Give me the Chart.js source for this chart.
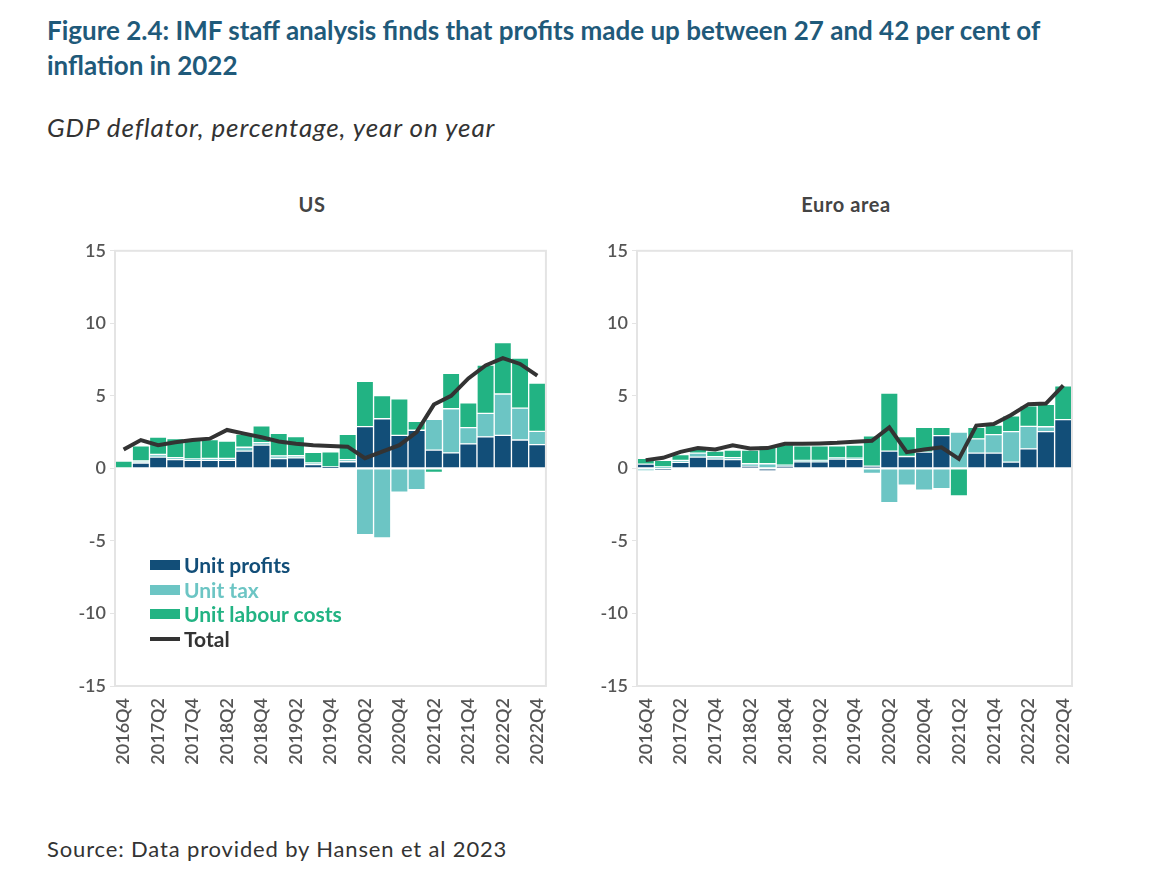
<!DOCTYPE html>
<html>
<head>
<meta charset="utf-8">
<script src="https://cdn.jsdelivr.net/npm/chart.js@4.4.1/dist/chart.umd.min.js"></script>
<style>
  html, body { margin:0; padding:0; background:#fff; }
  body { width:1170px; height:871px; position:relative; overflow:hidden; font-family: Lato, "Noto Sans", sans-serif; }
  .abs { position:absolute; }
  #title { left:47px; top:13px; font-size:26px; font-weight:700; color:#1f5a7a; line-height:35px; white-space:nowrap; }
  #subtitle { left:47px; top:111px; font-size:26px; font-style:italic; color:#333; white-space:nowrap; letter-spacing:0.9px; }
  .panel { font-size:20px; font-weight:700; color:#444; transform:translateX(-50%); top:192px; white-space:nowrap; letter-spacing:0.6px; }
  #source { left:47px; top:835px; font-size:22px; color:#333; white-space:nowrap; letter-spacing:0.85px; }
  .chartbox { position:absolute; top:236px; height:540px; }
  #legend { left:150px; top:553px; font-size:21px; font-weight:700; line-height:24.6px; }
  #legend div { display:flex; align-items:center; }
  #legend .sw { width:30px; height:10px; margin-right:4px; }
  #legend .ln { width:30px; height:4px; margin-right:4px; background:#333; }
</style>
</head>
<body>
<div id="title" class="abs">Figure 2.4: IMF staff analysis finds that profits made up between 27 and 42 per cent of<br>inflation in 2022</div>
<div id="subtitle" class="abs">GDP deflator, percentage, year on year</div>
<div class="abs panel" style="left:312px;">US</div>
<div class="abs panel" style="left:846px;">Euro area</div>
<div class="chartbox" style="left:55px; width:508px;"><canvas id="us"></canvas></div>
<div class="chartbox" style="left:577px; width:512px;"><canvas id="ea"></canvas></div>
<div id="legend" class="abs">
  <div style="color:#124e78"><span class="sw" style="background:#124e78"></span>Unit profits</div>
  <div style="color:#6cc5c4"><span class="sw" style="background:#6cc5c4"></span>Unit tax</div>
  <div style="color:#22b383"><span class="sw" style="background:#22b383"></span>Unit labour costs</div>
  <div style="color:#333"><span class="ln"></span>Total</div>
</div>
<div id="source" class="abs">Source: Data provided by Hansen et al 2023</div>
<script>
const quarters = ["2016Q4","2017Q1","2017Q2","2017Q3","2017Q4","2018Q1","2018Q2","2018Q3","2018Q4","2019Q1","2019Q2","2019Q3","2019Q4","2020Q1","2020Q2","2020Q3","2020Q4","2021Q1","2021Q2","2021Q3","2021Q4","2022Q1","2022Q2","2022Q3","2022Q4"];

const usProfits = [0, 0.37, 0.78, 0.6, 0.55, 0.55, 0.55, 1.19, 1.6, 0.68, 0.73, 0.27, 0.1, 0.46, 2.88, 3.42, 2.28, 2.63, 1.26, 1.07, 1.69, 2.17, 2.28, 1.96, 1.64];
const usTax = [0, 0.14, 0.18, 0.14, 0.1, 0.14, 0.14, 0.27, 0.18, 0.18, 0.14, 0.1, 0, 0.14, -4.57, -4.8, -1.64, -1.46, 2.12, 3.04, 1.12, 1.62, 2.85, 2.19, 0.91];
const usLabour = [0.5, 1.05, 1.2, 1.32, 1.35, 1.3, 1.2, 0.9, 1.15, 1.55, 1.32, 0.73, 1.05, 1.74, 3.13, 1.6, 2.51, 0.62, -0.27, 2.44, 1.71, 3.33, 3.54, 3.45, 3.33];
const usTotal = [1.3, 1.95, 1.6, 1.8, 1.95, 2.05, 2.65, 2.4, 2.15, 1.85, 1.7, 1.6, 1.55, 1.5, 0.7, 1.15, 1.6, 2.5, 4.4, 5.0, 6.2, 7.1, 7.6, 7.2, 6.4];

const eaProfits = [0.3, -0.12, 0.41, 0.78, 0.64, 0.6, 0.14, -0.18, 0.14, 0.46, 0.46, 0.64, 0.62, 0.15, 1.19, 0.82, 1.12, 2.26, 0, 1.05, 1.05, 0.43, 1.35, 2.53, 3.36];
const eaTax = [-0.18, 0.1, 0.14, 0.27, 0.16, 0.14, 0.18, 0.32, 0.09, 0.09, 0.09, 0.09, 0.09, -0.35, -2.37, -1.16, -1.5, -1.39, 2.5, 0.98, 1.28, 2.1, 1.55, 0.34, 0];
const eaLabour = [0.4, 0.45, 0.41, 0.32, 0.39, 0.52, 0.94, 1.23, 1.42, 1.0, 1.0, 0.82, 0.89, 2.1, 4.0, 1.37, 1.71, 0.57, -1.9, 0.8, 0.66, 1.1, 1.42, 1.55, 2.33];
const eaTotal = [0.57, 0.73, 1.14, 1.4, 1.3, 1.6, 1.37, 1.4, 1.7, 1.7, 1.72, 1.76, 1.83, 1.9, 2.83, 1.12, 1.3, 1.46, 0.66, 2.95, 3.06, 3.68, 4.43, 4.47, 5.73];

const yTicks = [15, 10, 5, 0, -5, -10, -15];

const COLORS = { profits:'#124e78', tax:'#6cc5c4', labour:'#22b383', total:'#333333' };

const framePlugin = {
  id:'frame',
  afterDraw(chart){
    const a = chart.chartArea, ctx = chart.ctx;
    ctx.save();
    ctx.strokeStyle = '#e4e4e4';
    ctx.lineWidth = 2;
    ctx.strokeRect(a.left, a.top, a.right - a.left, a.bottom - a.top);
    ctx.restore();
  }
};

function makeChart(id, profits, tax, labour, total){
  const barCommon = { type:'bar', stack:'bars', borderColor:'#ffffff', borderWidth:1, borderSkipped:false, barPercentage:1, categoryPercentage:1, order:2 };
  new Chart(document.getElementById(id), {
    data: {
      labels: quarters,
      datasets: [
        Object.assign({ label:'Unit profits', data:profits, backgroundColor:COLORS.profits }, barCommon),
        Object.assign({ label:'Unit tax', data:tax, backgroundColor:COLORS.tax }, barCommon),
        Object.assign({ label:'Unit labour costs', data:labour, backgroundColor:COLORS.labour }, barCommon),
        { type:'line', label:'Total', data:total, stack:'total', borderColor:COLORS.total, borderWidth:4, pointRadius:0, tension:0, fill:false, order:0 }
      ]
    },
    options: {
      responsive:true, maintainAspectRatio:false, animation:false,
      layout:{ padding:{ top:0, right:5, left:0, bottom:0 } },
      plugins:{ legend:{ display:false }, tooltip:{ enabled:false }, title:{ display:false } },
      scales:{
        x:{
          stacked:true,
          grid:{ display:false },
          border:{ color:'#e4e4e4', width:2 },
          ticks:{
            autoSkip:false, maxRotation:90, minRotation:90, padding:4,
            color:'#555', font:{ family:'Lato', size:18, weight:'600' },
            callback:function(v, i){ return i % 2 === 0 ? quarters[i] : ''; }
          },
          afterFit(scale){ scale.height = 90; }
        },
        y:{
          stacked:true, min:-15, max:15,
          afterBuildTicks(scale){ scale.ticks = yTicks.map(v => ({ value:v })); },
          grid:{ display:true, drawOnChartArea:false, drawTicks:true, tickLength:5, color:'#e4e4e4' },
          border:{ color:'#e4e4e4', width:2 },
          ticks:{ color:'#555', padding:4, font:{ family:'Lato', size:18, weight:'600' } },
          afterFit(scale){ scale.width = 60; }
        }
      }
    },
    plugins:[framePlugin]
  });
}

makeChart('us', usProfits, usTax, usLabour, usTotal);
makeChart('ea', eaProfits, eaTax, eaLabour, eaTotal);
</script>
</body>
</html>
